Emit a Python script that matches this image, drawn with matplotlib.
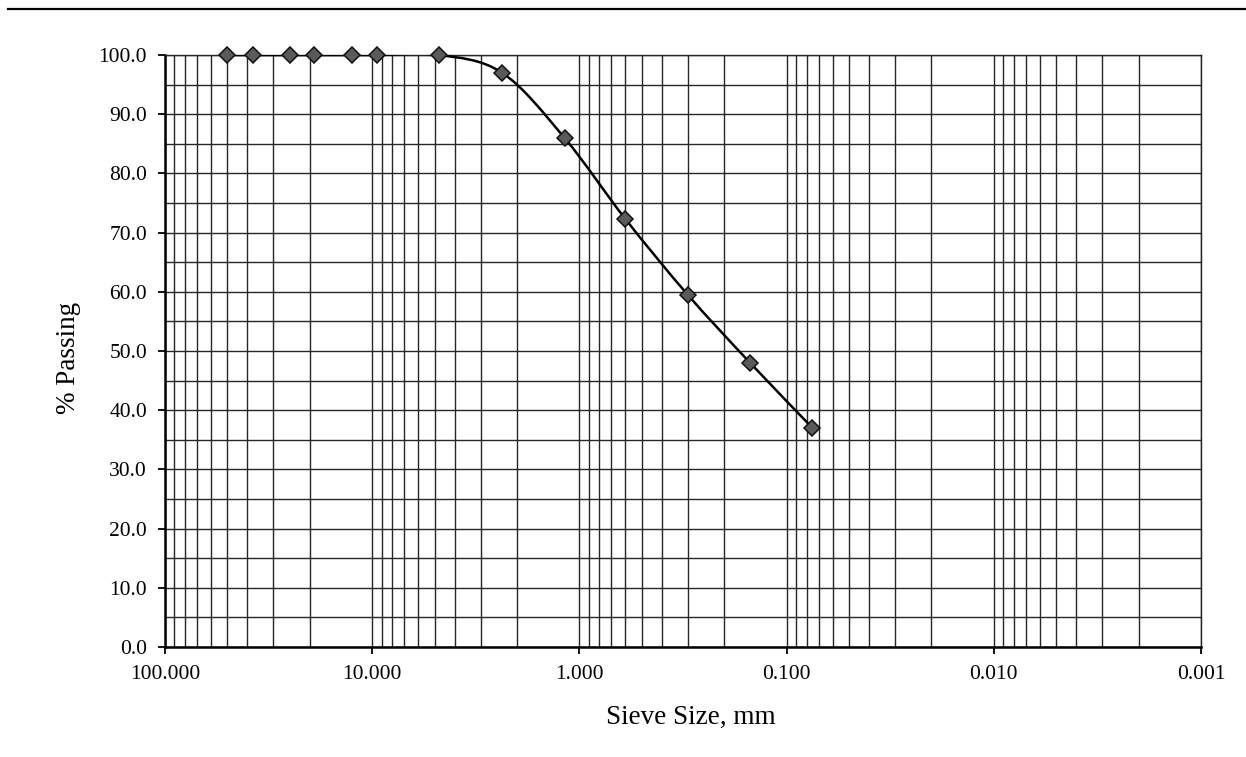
import numpy as np
import matplotlib
matplotlib.use('Agg')
import matplotlib.pyplot as plt
from matplotlib.path import Path
from matplotlib.patches import PathPatch
from matplotlib.lines import Line2D
from matplotlib.ticker import FixedLocator, LogLocator, NullFormatter, FormatStrFormatter

# sieve analysis data
sieve_mm = [50.0, 37.5, 25.0, 19.0, 12.5, 9.5, 4.75, 2.36, 1.18, 0.6, 0.3, 0.15, 0.075]
passing = [100.0, 100.0, 100.0, 100.0, 100.0, 100.0, 100.0, 97.0, 86.0, 72.3, 59.5, 48.0, 37.0]
x_ticks = [100.0, 10.0, 1.0, 0.1, 0.01, 0.001]

plt.rcParams['font.family'] = ['Liberation Serif', 'DejaVu Serif']

fig = plt.figure(figsize=(12.46, 7.57), dpi=100)
ax = fig.add_axes([165/1246, 1 - 647/757, 1036/1246, 592/757])

ax.set_xscale('log')
ax.set_xlim(100, 0.001)
ax.set_ylim(0, 100)

# smoothed line (Bezier through the points, like a spreadsheet "smoothed line")
lx = np.log10(sieve_mm)
py = np.array(passing)
n = len(lx)
verts = [(sieve_mm[0], passing[0])]
codes = [Path.MOVETO]
for i in range(n - 1):
    i0 = max(i - 1, 0)
    i3 = min(i + 2, n - 1)
    c1x = lx[i] + (lx[i + 1] - lx[i0]) / 6
    c1y = py[i] + (py[i + 1] - py[i0]) / 6
    c2x = lx[i + 1] - (lx[i3] - lx[i]) / 6
    c2y = py[i + 1] - (py[i3] - py[i]) / 6
    verts += [(10**c1x, c1y), (10**c2x, c2y), (sieve_mm[i + 1], passing[i + 1])]
    codes += [Path.CURVE4] * 3
ax.add_patch(PathPatch(Path(verts, codes), fill=False, edgecolor='black', lw=1.8, zorder=3))

ax.plot(sieve_mm, passing, linestyle='none', marker='D', markersize=8.5,
        markerfacecolor='#5a5a5a', markeredgecolor='#111111', markeredgewidth=1.1,
        zorder=4, clip_on=False)

ax.xaxis.set_major_locator(FixedLocator(x_ticks))
ax.xaxis.set_major_formatter(FormatStrFormatter('%.3f'))
ax.xaxis.set_minor_locator(LogLocator(base=10, subs=np.arange(2, 10), numticks=20))
ax.xaxis.set_minor_formatter(NullFormatter())
ax.yaxis.set_major_locator(FixedLocator(np.arange(0, 101, 10)))
ax.yaxis.set_minor_locator(FixedLocator(np.arange(5, 100, 10)))
ax.yaxis.set_major_formatter(FormatStrFormatter('%.1f'))

ax.grid(True, which='both', color='#262626', linewidth=1.0)
ax.set_axisbelow(True)

ax.tick_params(which='major', direction='out', length=5, width=1.3, labelsize=15.5, pad=8, color='black')
ax.tick_params(which='minor', length=0)

for s in ['left', 'bottom']:
    ax.spines[s].set_linewidth(1.8)
for s in ['top', 'right']:
    ax.spines[s].set_linewidth(1.0)
    ax.spines[s].set_color('#262626')

ax.set_xlabel('Sieve Size, mm', fontsize=19.5)
ax.set_ylabel('% Passing', fontsize=19.5)
ax.xaxis.set_label_coords(0.508, -0.098)
ax.yaxis.set_label_coords(-0.081, 0.488)

fig.add_artist(Line2D([8/1246, 1.0], [1 - 9/757, 1 - 9/757], color='black', lw=1.6))

fig.savefig('out.png', dpi=100)
